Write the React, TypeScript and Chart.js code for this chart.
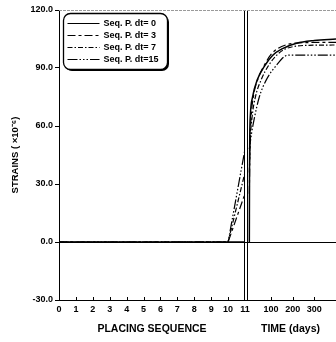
import React, { useEffect, useRef } from 'react';
import { Chart, registerables } from 'chart.js';

Chart.register(...registerables);

// ---------- data ----------
const seriesNames = ['Seq. P. dt= 0', 'Seq. P. dt= 3', 'Seq. P. dt= 7', 'Seq. P. dt=15'];

// left panel: placing sequence 0..11
const seqX = [0, 1, 2, 3, 4, 5, 6, 7, 8, 9, 10, 11];
const seqDt0 = [0, 0, 0, 0, 0, 0, 0, 0, 0, 0, 0, 0];
const seqDt3 = [0, 0, 0, 0, 0, 0, 0, 0, 0, 0, 0, 25];
const seqDt7 = [0, 0, 0, 0, 0, 0, 0, 0, 0, 0, 0, 36];
const seqDt15 = [0, 0, 0, 0, 0, 0, 0, 0, 0, 0, 0, 48];

// right panel: time (days)
const timeDt0 = [0, 1, 2, 5, 15, 37, 70, 107, 153, 218, 300, 400];
const strainDt0 = [0, 40, 55, 66, 75, 84, 91, 96.5, 100, 102.8, 104.2, 105];
const timeDt3 = [0, 3, 8, 20, 42, 72, 100, 130, 170, 230, 400];
const strainDt3 = [25, 50, 64, 76, 85, 92, 97, 100, 102, 103, 103.3];
const timeDt7 = [0, 4, 12, 28, 55, 90, 125, 160, 200, 260, 400];
const strainDt7 = [36, 52, 64, 75, 84, 91.5, 96.5, 99.5, 101, 101.7, 101.9];
const timeDt15 = [0, 10, 23, 46, 79, 126, 163, 190, 400];
const strainDt15 = [48, 56, 64, 75, 84, 91.5, 96, 96.7, 96.7];

const yTicks = [-30, 0, 30, 60, 90, 120];
const seqTickMarks = [1, 2, 3, 4, 5, 6, 7, 8, 9, 10];
const timeTickLabels = [100, 200, 300];

const dashes = [[], [8, 3, 3, 3], [5, 2, 1.5, 2], [10, 2, 1.5, 2, 1.5, 2, 1.5, 2]];

const FONT = '"Liberation Sans", Arial, sans-serif';

function pts(xs: number[], ys: number[]) {
  return xs.map((x, i) => ({ x, y: ys[i] }));
}

const decor = {
  id: 'decor',
  afterDraw(chart: any) {
    const { ctx, chartArea: ca, scales } = chart;
    const xs = scales.x;
    const x2 = scales.x2;
    ctx.save();
    ctx.strokeStyle = '#000';
    ctx.lineWidth = 1;
    ctx.setLineDash([]);
    // inward tick marks
    ctx.beginPath();
    for (const v of seqTickMarks) {
      const px = Math.round(xs.getPixelForValue(v)) + 0.5;
      ctx.moveTo(px, ca.bottom);
      ctx.lineTo(px, ca.bottom - 3);
    }
    for (const v of timeTickLabels) {
      const px = Math.round(x2.getPixelForValue(v)) + 0.5;
      ctx.moveTo(px, ca.bottom);
      ctx.lineTo(px, ca.bottom - 3);
    }
    ctx.stroke();
    // panel borders
    ctx.beginPath();
    const b1 = Math.round(xs.right) - 0.5;
    const b2 = Math.round(x2.left) + 2.5;
    ctx.moveTo(b1, ca.top);
    ctx.lineTo(b1, ca.bottom);
    ctx.moveTo(b2, ca.top);
    ctx.lineTo(b2, ca.bottom);
    ctx.stroke();
    // faint top border
    ctx.strokeStyle = '#9a9a9a';
    ctx.setLineDash([3, 1]);
    ctx.beginPath();
    ctx.moveTo(ca.left, Math.round(ca.top) + 0.5);
    ctx.lineTo(ca.right, Math.round(ca.top) + 0.5);
    ctx.stroke();
    ctx.setLineDash([]);

    // legend box
    const lx = ca.left + 4.5;
    const ly = ca.top + 3.5;
    const lw = 104;
    const lh = 56;
    ctx.fillStyle = '#000';
    ctx.beginPath();
    ctx.roundRect(lx + 1.5, ly + 1.5, lw, lh, 7);
    ctx.fill();
    ctx.fillStyle = '#fff';
    ctx.beginPath();
    ctx.roundRect(lx, ly, lw, lh, 7);
    ctx.fill();
    ctx.strokeStyle = '#000';
    ctx.lineWidth = 1.3;
    ctx.stroke();

    ctx.font = `bold 9px ${FONT}`;
    ctx.textBaseline = 'middle';
    ctx.textAlign = 'left';
    ctx.fillStyle = '#000';
    const ds = chart.data.datasets;
    for (let i = 0; i < 4; i++) {
      const yy = Math.round(ly + 9 + i * 12.3) + 0.5;
      ctx.lineWidth = 1.2;
      ctx.setLineDash(ds[i].borderDash || []);
      ctx.beginPath();
      ctx.moveTo(lx + 4, yy);
      ctx.lineTo(lx + 36, yy);
      ctx.stroke();
      ctx.setLineDash([]);
      ctx.fillText(ds[i].label, lx + 40, yy);
    }
    ctx.restore();
  },
};

export default function App() {
  const ref = useRef<HTMLCanvasElement | null>(null);

  useEffect(() => {
    if (!ref.current) return;
    const leftSets = [seqDt0, seqDt3, seqDt7, seqDt15];
    const rightT = [timeDt0, timeDt3, timeDt7, timeDt15];
    const rightS = [strainDt0, strainDt3, strainDt7, strainDt15];
    const datasets: any[] = [];
    for (let i = 0; i < 4; i++) {
      datasets.push({
        label: seriesNames[i],
        data: pts(seqX, leftSets[i]),
        xAxisID: 'x',
        yAxisID: 'y',
        borderColor: '#000',
        borderWidth: i === 0 ? 1.4 : 1.2,
        borderDash: dashes[i],
        pointRadius: 0,
        fill: false,
        tension: 0,
      });
    }
    for (let i = 0; i < 4; i++) {
      datasets.push({
        label: seriesNames[i] + ' (time)',
        data: pts(rightT[i], rightS[i]),
        xAxisID: 'x2',
        yAxisID: 'y',
        borderColor: '#000',
        borderWidth: i === 0 ? 1.5 : 1.2,
        borderDash: dashes[i],
        pointRadius: 0,
        fill: false,
        cubicInterpolationMode: 'monotone',
      });
    }
    const tickFont = { family: FONT, size: 9, weight: 'bold' as const };
    const titleFont = { family: FONT, size: 10.5, weight: 'bold' as const };
    const noPad = (s: any) => {
      s.height = 42;
      s.paddingLeft = 0;
      s.paddingRight = 0;
    };
    const chart = new Chart(ref.current, {
      type: 'line',
      data: { datasets },
      plugins: [decor],
      options: {
        animation: false,
        responsive: false,
        layout: { padding: { top: 10, left: 0, right: 0, bottom: 0 } },
        plugins: { legend: { display: false }, tooltip: { enabled: false } },
        scales: {
          x: {
            type: 'linear',
            position: 'bottom',
            stack: 'bottomStack',
            stackWeight: 186,
            min: seqX[0],
            max: seqX[seqX.length - 1],
            ticks: { stepSize: 1, autoSkip: false, maxRotation: 0, padding: 4, color: '#000', font: tickFont },
            grid: { display: false, drawTicks: false, tickLength: 0 },
            border: { display: true, color: '#000', width: 1 },
            title: { display: true, text: 'PLACING SEQUENCE', color: '#000', font: titleFont, padding: { top: 0, bottom: 7 } },
            afterFit: noPad,
          } as any,
          x2: {
            type: 'linear',
            position: 'bottom',
            stack: 'bottomStack',
            stackWeight: 91,
            min: -20,
            max: 400,
            ticks: {
              stepSize: 100,
              autoSkip: false,
              maxRotation: 0,
              padding: 4,
              color: '#000',
              font: tickFont,
              callback: (v: any) => (timeTickLabels.includes(Number(v)) ? String(v) : ''),
            },
            grid: { display: false, drawTicks: false, tickLength: 0 },
            border: { display: true, color: '#000', width: 1 },
            title: { display: true, text: 'TIME (days)', color: '#000', font: titleFont, padding: { top: 0, bottom: 7 } },
            afterFit: noPad,
          } as any,
          y: {
            type: 'linear',
            position: 'left',
            min: yTicks[0],
            max: yTicks[yTicks.length - 1],
            ticks: {
              stepSize: 30,
              padding: 2,
              color: '#000',
              font: tickFont,
              callback: (v: any) => Number(v).toFixed(1),
            },
            grid: {
              color: (c: any) => (c.tick && c.tick.value === 0 ? '#000' : 'rgba(0,0,0,0)'),
              tickColor: '#000',
              tickLength: 4,
              lineWidth: 1,
            },
            border: { display: true, color: '#000', width: 1 },
            title: {
              display: true,
              text: 'STRAINS ( ×10⁻⁶)',
              color: '#000',
              font: { family: FONT, size: 9.5, weight: 'bold' },
              padding: { top: 10, bottom: 0 },
            },
            afterFit: (s: any) => { s.width = 59; },
          } as any,
        },
      },
    });
    return () => chart.destroy();
  }, []);

  return (
    <div style={{ position: 'fixed', left: 0, top: 0, width: 336, height: 342, background: '#fff', overflow: 'hidden' }}>
      <canvas ref={ref} width={336} height={342} style={{ display: 'block', width: 336, height: 342 }} />
    </div>
  );
}
